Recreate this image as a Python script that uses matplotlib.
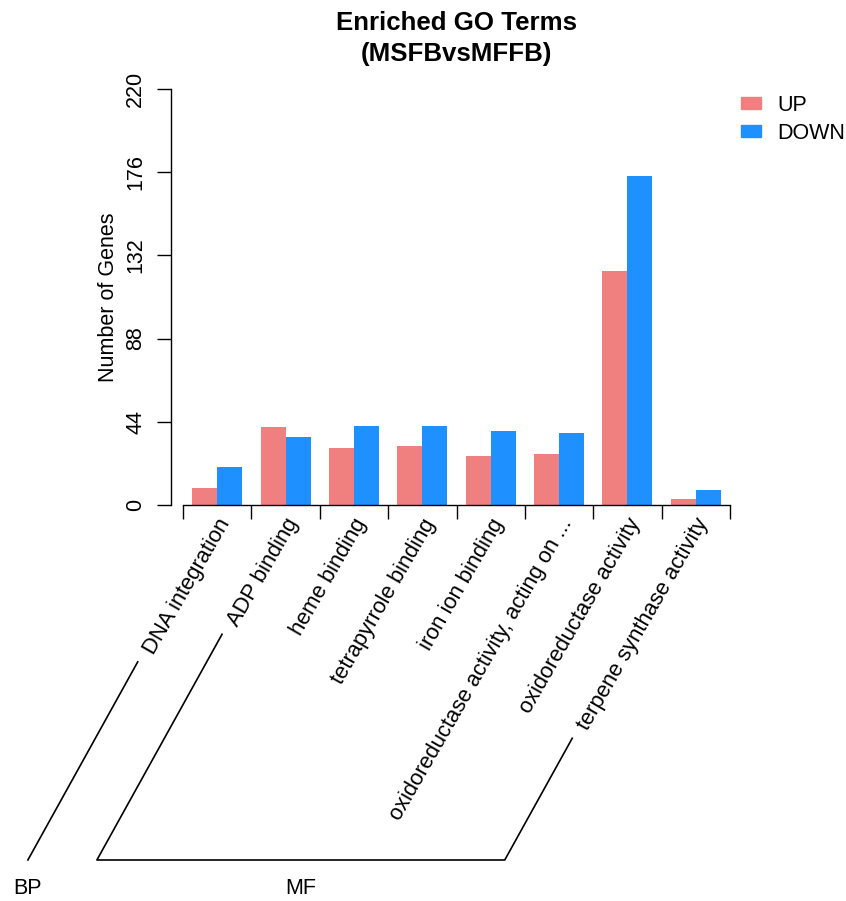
import numpy as np
import matplotlib
matplotlib.use("Agg")
import matplotlib.pyplot as plt
from matplotlib.patches import Patch
from matplotlib.transforms import offset_copy

plt.rcParams['font.family'] = ['Liberation Sans', 'DejaVu Sans']

# GO terms and gene counts
terms = ["DNA integration", "ADP binding", "heme binding", "tetrapyrrole binding",
         "iron ion binding", "oxidoreductase activity, acting on ...",
         "oxidoreductase activity", "terpene synthase activity"]
ontology = ["BP", "MF", "MF", "MF", "MF", "MF", "MF", "MF"]
up_counts = [9, 41, 30, 31, 26, 27, 124, 3]
down_counts = [20, 36, 42, 42, 39, 38, 174, 8]
yticks = [0, 44, 88, 132, 176, 220]

W, H, DPI = 846, 901, 100
FS = 15.5
fig = plt.figure(figsize=(W / DPI, H / DPI), dpi=DPI)
ax = fig.add_axes([183 / W, (H - 505) / H, 547 / W, 416 / H])

n = len(terms)
idx = np.arange(n)
bw = 0.365
ax.bar(idx + 0.5 - bw / 2, up_counts, width=bw, color="#F08080", linewidth=0)
ax.bar(idx + 0.5 + bw / 2, down_counts, width=bw, color="#1E90FF", linewidth=0)

ax.set_xlim(0, n)
ax.set_ylim(0, 220)
for s in ("top", "right"):
    ax.spines[s].set_visible(False)
ax.spines["left"].set_position(("outward", 12 * 72 / DPI))
ax.spines["left"].set_linewidth(1.0)
ax.spines["bottom"].set_linewidth(1.0)
ax.set_xticks(np.arange(n + 1))
ax.set_xticklabels([])
ax.set_yticks(yticks)
ax.set_yticklabels([str(v) for v in yticks], rotation=90, va="center", fontsize=FS)
ax.tick_params(axis="both", direction="out", length=10, width=1.0, color="black")
ax.tick_params(axis="y", pad=8)

fig.text(108 / W, 1 - 297 / H, "Number of Genes", rotation=90, ha="center",
         va="center", fontsize=FS)

fig.text(456.5 / W, 1 - 38.5 / H, "Enriched GO Terms\n(MSFBvsMFFB)", ha="center",
         va="center", fontsize=18.6, fontweight="bold", linespacing=1.35)

# rotated category labels
LFS = 15.8
lab_tr = offset_copy(ax.get_xaxis_transform(), fig=fig, x=8, y=-15, units="dots")
labels = []
for i, t in enumerate(terms):
    labels.append(ax.text(i + 0.5, 0, t, transform=lab_tr, rotation=60,
                          rotation_mode="anchor", ha="right", va="center",
                          fontsize=LFS))

leg = fig.legend(handles=[Patch(color="#F08080", label="UP"),
                          Patch(color="#1E90FF", label="DOWN")],
                 loc="upper left", bbox_to_anchor=(741 / W, 1 - 95 / H),
                 frameon=False, fontsize=FS, handlelength=0.95,
                 handleheight=0.5, handletextpad=0.75, labelspacing=0.32,
                 borderpad=0, borderaxespad=0)

# connector lines grouping terms by ontology
fig.canvas.draw()
rend = fig.canvas.get_renderer()
c60, s60 = np.cos(np.deg2rad(60)), np.sin(np.deg2rad(60))
ang_line = np.deg2rad(61)
y_base = H - 860


def line_from_label(k):
    bb = labels[k].get_window_extent(rend)
    # recover the unrotated text height from the rotated bounding box
    bw_, bh_ = bb.width, bb.height
    h = (bw_ * s60 - bh_ * c60) / (s60 * s60 - c60 * c60)
    # just below the start of the label
    sx = bb.x0 + s60 * h - 20
    sy = bb.y0 - 4
    bx = sx - (sy - y_base) / np.tan(ang_line)
    return (sx, sy), (bx, y_base)


to_fig = fig.transFigure.inverted()
for g in dict.fromkeys(ontology):
    members = [i for i, o in enumerate(ontology) if o == g]
    top1, bot1 = line_from_label(members[0])
    top2, bot2 = line_from_label(members[-1])
    if len(members) == 1:
        pts = [top1, bot1]
    else:
        pts = [top1, bot1, bot2, top2]
    pts = to_fig.transform(np.array(pts))
    fig.add_artist(plt.Line2D(pts[:, 0], pts[:, 1], color="black", lw=1.2,
                              transform=fig.transFigure))
    cx = (to_fig.transform([bot1])[0][0] + to_fig.transform([bot2])[0][0]) / 2
    fig.text(cx, 1 - 888 / H, g, ha="center", va="center", fontsize=FS)

fig.savefig("out.png", dpi=DPI)
